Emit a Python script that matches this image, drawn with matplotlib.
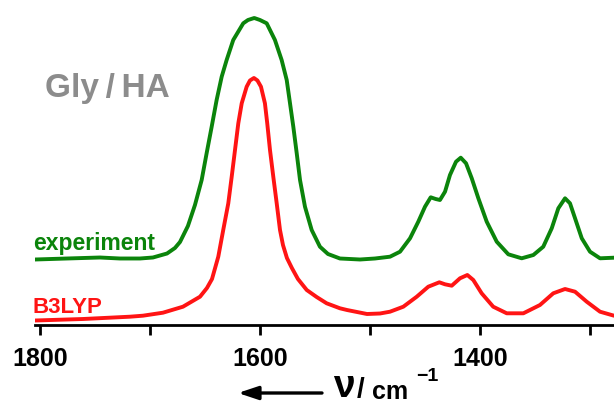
import matplotlib
matplotlib.use("Agg")
import matplotlib.pyplot as plt
from matplotlib.patches import FancyArrowPatch
from matplotlib.ticker import FixedLocator

plt.rcParams['font.family'] = ['Liberation Sans', 'DejaVu Sans']
plt.rcParams['font.weight'] = 'bold'

# experimental IR spectrum (wavenumber in cm-1, intensity above its own baseline)
exp_wn = [1804.5, 1775.5, 1745.5, 1727.3, 1709.1, 1697.3, 1684.5, 1677.3, 1672.7, 1665.5,
          1659.1, 1653.0, 1648.5, 1643.9, 1639.4, 1634.8, 1630.3, 1624.3, 1615.2, 1610.9,
          1605.2, 1600.0, 1593.9, 1586.4, 1580.3, 1575.7, 1572.7, 1569.7, 1566.6, 1563.6,
          1559.1, 1553.0, 1545.5, 1538.2, 1527.3, 1509.1, 1495.5, 1481.8, 1472.7, 1463.6,
          1456.1, 1450.0, 1444.8, 1440.3, 1436.4, 1431.8, 1427.3, 1421.8, 1417.5, 1412.7,
          1407.5, 1401.5, 1393.9, 1384.8, 1374.3, 1362.1, 1351.5, 1342.5, 1334.8, 1328.8,
          1322.7, 1318.2, 1313.6, 1307.5, 1300.0, 1290.9, 1278.2]
exp_int = [-0.01, 0.00, 0.01, 0.00, 0.00, 0.01, 0.05, 0.105, 0.165, 0.325,
           0.535, 0.785, 1.052, 1.318, 1.585, 1.818, 1.985, 2.185, 2.352, 2.385,
           2.405, 2.385, 2.352, 2.185, 1.985, 1.785, 1.552, 1.318, 1.052, 0.785,
           0.518, 0.285, 0.118, 0.045, 0.00, -0.01, 0.00, 0.018, 0.068, 0.202,
           0.368, 0.518, 0.612, 0.595, 0.585, 0.668, 0.835, 0.968, 1.008, 0.952,
           0.802, 0.602, 0.368, 0.168, 0.042, 0.002, 0.035, 0.118, 0.302, 0.502,
           0.602, 0.552, 0.402, 0.202, 0.068, 0.002, 0.008]

# B3LYP computed spectrum
calc_wn = [1804.5, 1760.9, 1718.2, 1706.4, 1688.2, 1670.0, 1654.5, 1648.2, 1643.6, 1637.9,
           1633.4, 1628.8, 1625.7, 1622.7, 1619.7, 1616.6, 1612.1, 1609.1, 1605.5, 1602.3,
           1599.1, 1595.5, 1593.4, 1590.9, 1587.9, 1584.8, 1581.8, 1579.1, 1575.5, 1571.0,
           1565.5, 1557.5, 1548.5, 1539.4, 1527.3, 1520.9, 1502.7, 1490.9, 1481.8, 1469.7,
           1457.5, 1447.0, 1437.0, 1431.8, 1425.7, 1418.2, 1411.5, 1406.1, 1398.5, 1388.0,
           1375.7, 1360.6, 1345.5, 1333.4, 1322.7, 1313.6, 1303.0, 1290.9, 1278.2]
calc_int = [0.00, 0.015, 0.038, 0.048, 0.078, 0.138, 0.238, 0.325, 0.415, 0.638,
            0.905, 1.172, 1.438, 1.705, 1.972, 2.172, 2.338, 2.40, 2.425, 2.40,
            2.338, 2.172, 1.972, 1.705, 1.438, 1.172, 0.905, 0.755, 0.625, 0.525,
            0.415, 0.305, 0.235, 0.172, 0.122, 0.105, 0.065, 0.07, 0.088, 0.138,
            0.238, 0.338, 0.382, 0.362, 0.348, 0.422, 0.455, 0.405, 0.272, 0.138,
            0.072, 0.072, 0.155, 0.272, 0.315, 0.288, 0.188, 0.088, 0.048]

exp_offset = 0.665
calc_offset = 0.045

major_ticks = [1800, 1600, 1400]
minor_ticks = [1700, 1500, 1300]

green = '#0b840b'
red = '#ff1414'

fig = plt.figure(figsize=(6.14, 4.05), dpi=100)
ax = fig.add_axes([35 / 614, 80 / 405, 579 / 614, 325 / 405])

ax.plot(exp_wn, [v + exp_offset for v in exp_int], color=green, lw=2.8,
        solid_joinstyle='round', solid_capstyle='round')
ax.plot(calc_wn, [v + calc_offset for v in calc_int], color=red, lw=2.8,
        solid_joinstyle='round', solid_capstyle='round')

ax.set_xlim(1804.5, 1278.2)
ax.set_ylim(0, 3.25)

# only the bottom axis line
for side in ['left', 'right', 'top']:
    ax.spines[side].set_visible(False)
ax.spines['bottom'].set_linewidth(2)
ax.set_yticks([])
ax.xaxis.set_major_locator(FixedLocator(major_ticks))
ax.xaxis.set_minor_locator(FixedLocator(minor_ticks))
ax.tick_params(axis='x', which='both', direction='out', length=7, width=2, pad=9,
               labelsize=18)
for lbl in ax.get_xticklabels():
    lbl.set_fontweight('bold')

# labels
fig.text(45 / 614, 1 - 96.7 / 405, 'Gly\u2009/\u2009HA', color='#8c8c8c', fontsize=24,
         fontweight='bold', va='baseline', ha='left')
fig.text(33 / 614, 1 - 250 / 405, 'experiment', color=green, fontsize=16.5,
         fontweight='bold', va='baseline', ha='left')
fig.text(33 / 614, 1 - 313 / 405, 'B3LYP', color=red, fontsize=16,
         fontweight='bold', va='baseline', ha='left')

# axis title with arrow
fig.patches.append(FancyArrowPatch(
    (322 / 614, 1 - 393 / 405), (238 / 614, 1 - 393 / 405),
    transform=fig.transFigure, arrowstyle='-|>,head_length=12,head_width=4',
    lw=2.4, color='black', mutation_scale=1, shrinkA=0, shrinkB=0))
fig.text(333 / 614, 1 - 397 / 405, '\u03bd', fontsize=28, fontweight='bold',
         va='baseline', ha='left')
fig.text(357 / 614, 1 - 397 / 405, '/', fontsize=20, fontweight='bold',
         va='baseline', ha='left')
fig.text(372 / 614, 1 - 399 / 405, 'cm', fontsize=18, fontweight='bold',
         va='baseline', ha='left')
fig.text(416 / 614, 1 - 381 / 405, '\u22121', fontsize=14, fontweight='bold',
         va='baseline', ha='left')

fig.savefig('out.png', dpi=100)
